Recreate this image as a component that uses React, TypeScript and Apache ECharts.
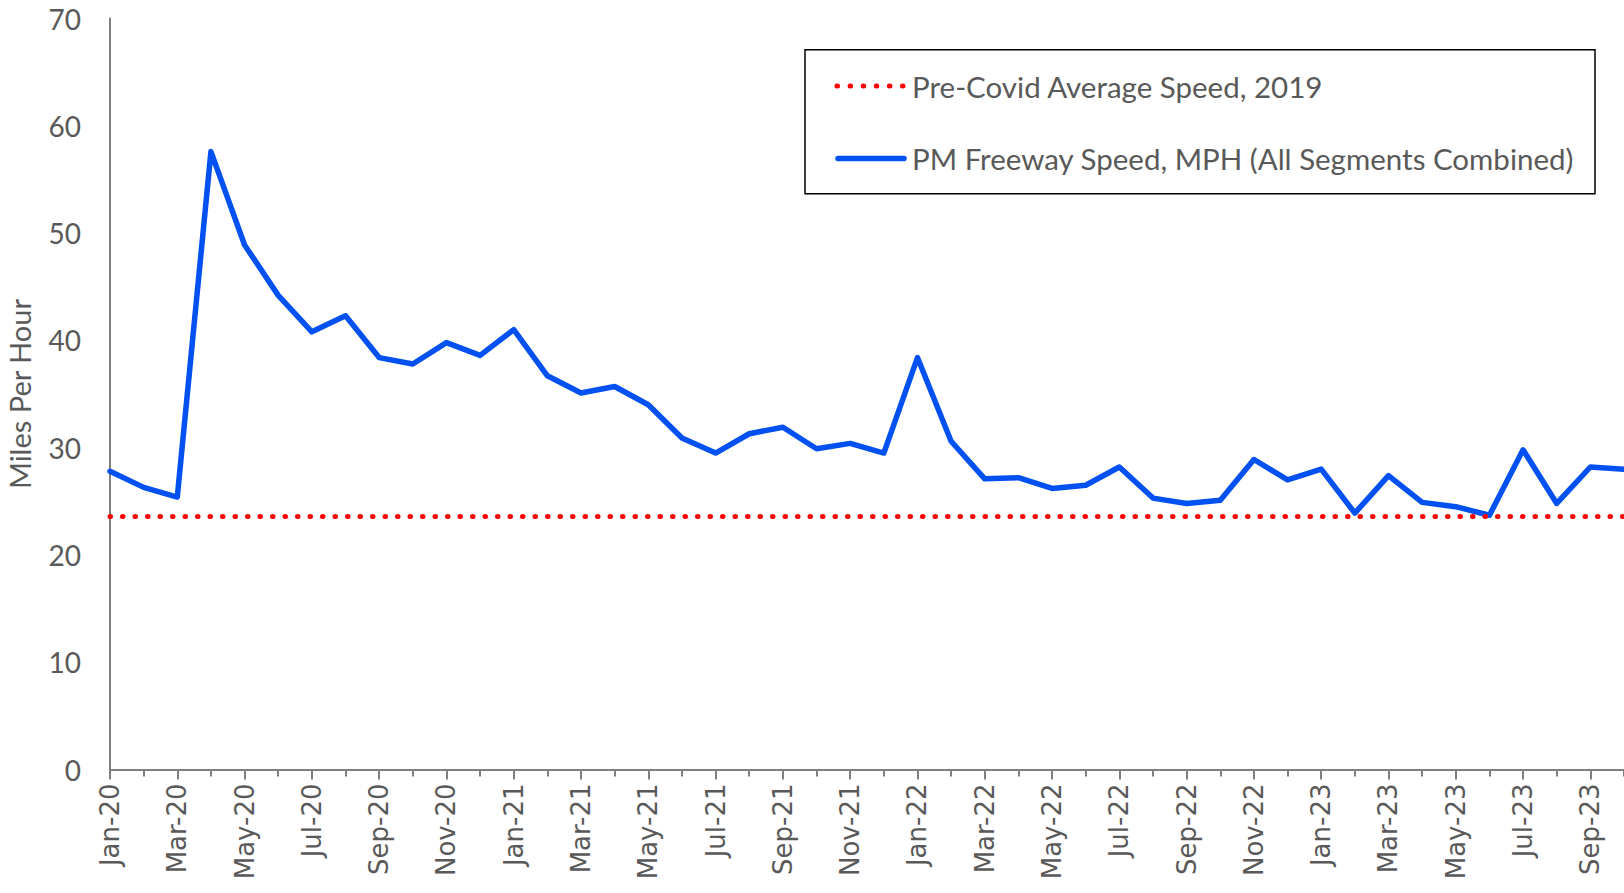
import React, { useEffect, useRef } from "react";
import * as echarts from "echarts";

const MONTHS = [
  "Jan-20","Feb-20","Mar-20","Apr-20","May-20","Jun-20","Jul-20","Aug-20","Sep-20","Oct-20","Nov-20","Dec-20",
  "Jan-21","Feb-21","Mar-21","Apr-21","May-21","Jun-21","Jul-21","Aug-21","Sep-21","Oct-21","Nov-21","Dec-21",
  "Jan-22","Feb-22","Mar-22","Apr-22","May-22","Jun-22","Jul-22","Aug-22","Sep-22","Oct-22","Nov-22","Dec-22",
  "Jan-23","Feb-23","Mar-23","Apr-23","May-23","Jun-23","Jul-23","Aug-23","Sep-23","Oct-23",
];

const PM_SPEED = [
  27.8, 26.3, 25.4, 57.6, 48.9, 44.2, 40.8, 42.3, 38.4, 37.8, 39.8, 38.6,
  41.0, 36.7, 35.1, 35.7, 34.0, 30.9, 29.5, 31.3, 31.9, 29.9, 30.4, 29.5,
  38.4, 30.6, 27.1, 27.2, 26.2, 26.5, 28.2, 25.3, 24.8, 25.1, 28.9, 27.0,
  28.0, 23.9, 27.4, 24.9, 24.5, 23.7, 29.8, 24.8, 28.2, 28.0,
];

const PRE_COVID_AVG = 23.6;

const Y_MIN = 0;
const Y_MAX = 70;
const Y_STEP = 10;

const SERIES_PRE = "Pre-Covid Average Speed, 2019";
const SERIES_PM = "PM Freeway Speed, MPH (All Segments Combined)";
const Y_TITLE = "Miles Per Hour";

const TEXT_COLOR = "#595959";
const AXIS_COLOR = "#7f7f7f";
const BLUE = "#0050F2";
const RED = "#FF0000";

export default function App() {
  const ref = useRef<HTMLDivElement>(null);

  useEffect(() => {
    if (!ref.current) return;
    const chart = echarts.init(ref.current, undefined, { renderer: "svg" });
    const dots = { color: RED, width: 5, type: [0.5, 12] as any, cap: "round" as const };
    const legendFont = { fontFamily: "Lato", fontSize: 29.5, fill: TEXT_COLOR, verticalAlign: "middle" as const };
    chart.setOption({
      animation: false,
      backgroundColor: "#ffffff",
      grid: {
        left: 110,
        right: 0,
        top: 18.6,
        bottom: 123.5,
        containLabel: false,
        outerBoundsMode: "none",
      },
      graphic: [
        {
          type: "rect",
          shape: { x: 805, y: 49.7, width: 790, height: 144 },
          style: { fill: "none", stroke: "#000000", lineWidth: 1.5 },
          silent: true,
        },
        {
          type: "line",
          shape: { x1: 837, y1: 86, x2: 903, y2: 86 },
          style: { stroke: RED, lineWidth: 5, lineDash: [0.5, 12.6], lineCap: "round" },
          silent: true,
        },
        {
          type: "text",
          x: 912,
          y: 86,
          style: { text: SERIES_PRE, ...legendFont },
          silent: true,
        },
        {
          type: "line",
          shape: { x1: 838, y1: 158.5, x2: 904, y2: 158.5 },
          style: { stroke: BLUE, lineWidth: 5.5, lineCap: "round" },
          silent: true,
        },
        {
          type: "text",
          x: 912,
          y: 158.5,
          style: { text: SERIES_PM, ...legendFont },
          silent: true,
        },
      ],
      xAxis: [
        {
          type: "category",
          data: MONTHS,
          boundaryGap: false,
          position: "bottom",
          axisLine: { show: true, lineStyle: { color: AXIS_COLOR, width: 2 } },
          axisTick: { show: true, interval: 0, length: 7, lineStyle: { color: AXIS_COLOR, width: 2 } },
          axisLabel: {
            interval: 1,
            rotate: 90,
            margin: 14,
            fontFamily: "DejaVu Sans",
            fontSize: 26,
            color: TEXT_COLOR,
          },
          splitLine: { show: false },
        },
        {
          type: "category",
          data: MONTHS,
          boundaryGap: false,
          position: "bottom",
          axisLine: { show: false },
          axisTick: { show: true, interval: 1, length: 10, lineStyle: { color: AXIS_COLOR, width: 2 } },
          axisLabel: { show: false },
          splitLine: { show: false },
        },
      ],
      yAxis: {
        type: "value",
        min: Y_MIN,
        max: Y_MAX,
        interval: Y_STEP,
        name: Y_TITLE,
        nameLocation: "middle",
        nameRotate: 90,
        nameGap: 76,
        nameTextStyle: { fontFamily: "Lato", fontSize: 29, color: TEXT_COLOR },
        axisLine: { show: true, lineStyle: { color: AXIS_COLOR, width: 2 } },
        axisTick: { show: false },
        axisLabel: { margin: 29, fontFamily: "Lato", fontSize: 28, color: TEXT_COLOR },
        splitLine: { show: false },
      },
      series: [
        {
          name: SERIES_PRE,
          type: "line",
          data: [],
          symbol: "none",
          itemStyle: { color: RED },
          lineStyle: dots,
          markLine: {
            silent: true,
            symbol: ["none", "none"],
            label: { show: false },
            lineStyle: dots,
            data: [{ yAxis: PRE_COVID_AVG }],
          },
          z: 2,
        },
        {
          name: SERIES_PM,
          type: "line",
          data: PM_SPEED,
          symbol: "none",
          showSymbol: false,
          color: BLUE,
          itemStyle: { color: BLUE },
          lineStyle: { color: BLUE, width: 5.5, join: "round", cap: "round" },
          emphasis: { disabled: true },
          z: 3,
        },
      ],
    });
    return () => chart.dispose();
  }, []);

  return (
    <div
      ref={ref}
      style={{ position: "fixed", left: 0, top: 0, width: "1624px", height: "893px", background: "#fff" }}
    />
  );
}
